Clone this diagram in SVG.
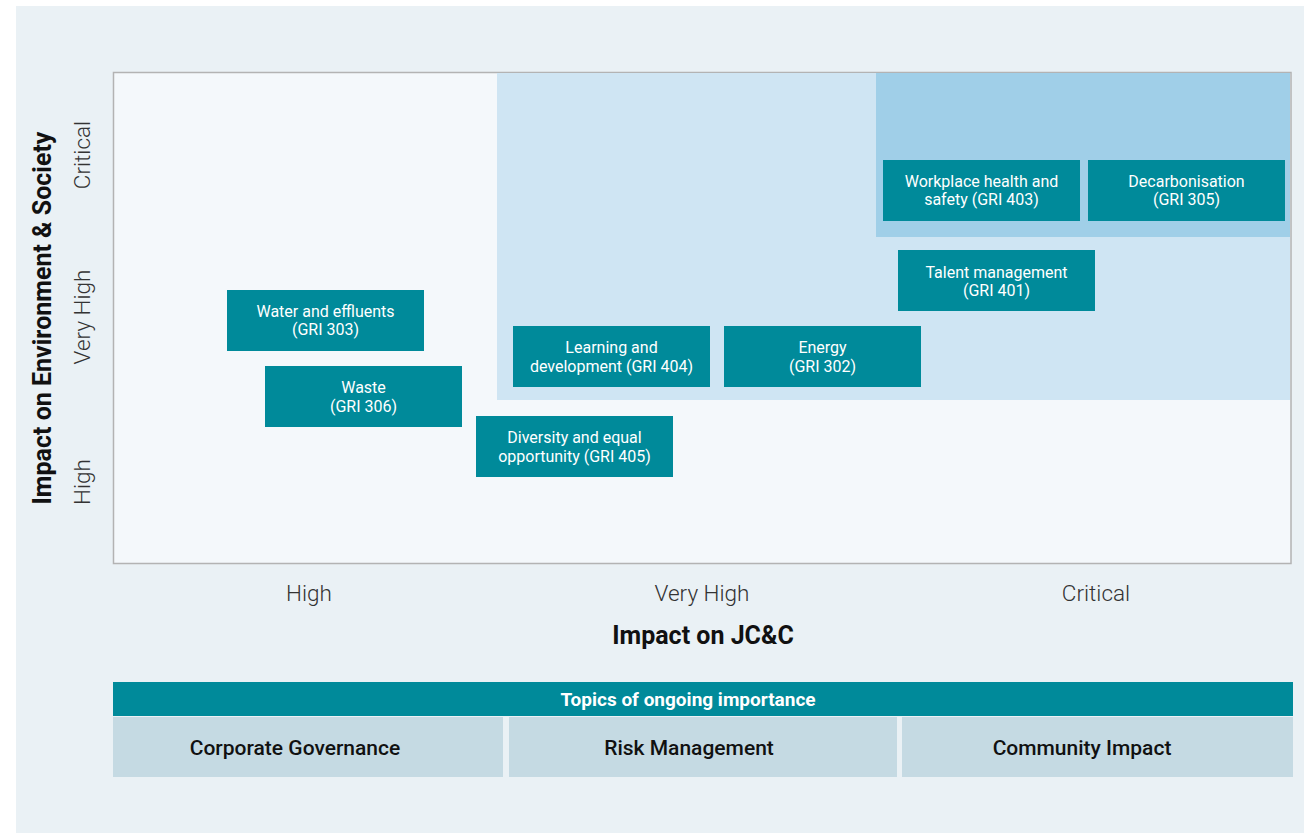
<svg xmlns="http://www.w3.org/2000/svg" width="1304" height="833" viewBox="0 0 1304 833">
  <style>
    .node rect { fill: #008a9a; }
    .node text { fill: #ffffff; font-family: Roboto, "Liberation Sans", sans-serif; font-size: 16px; text-anchor: middle; }
    .axis { fill: #333333; font-family: Roboto, "Liberation Sans", sans-serif; font-size: 22.5px; font-weight: 300; text-anchor: middle; }
    .title { fill: #111111; font-family: Roboto, "Liberation Sans", sans-serif; font-size: 25px; font-weight: bold; text-anchor: middle; }
    .cell { fill: #c5dae3; }
    .cell-text { fill: #111111; font-family: Roboto, "Liberation Sans", sans-serif; font-size: 21px; font-weight: 500; text-anchor: middle; }
  </style>

  <!-- page background -->
  <rect x="0" y="0" width="1304" height="833" fill="#ffffff"/>
  <rect x="16" y="6" width="1288" height="827" fill="#eaf1f5"/>

  <!-- matrix area and shaded zones -->
  <g id="matrix">
    <rect x="113.5" y="72.5" width="1177.5" height="491" fill="#f4f8fb" stroke="#b3b3b3" stroke-width="1.5"/>
    <rect x="497" y="73" width="793" height="327" fill="#cfe5f3"/>
    <rect x="876" y="73" width="414" height="164" fill="#a0cfe8"/>
  </g>

  <!-- topic nodes -->
  <g id="workplace" class="node">
    <rect x="883" y="160" width="197" height="61"/>
    <text x="981.5" y="187">Workplace health and</text>
    <text x="981.5" y="205">safety (GRI 403)</text>
  </g>
  <g id="decarbonisation" class="node">
    <rect x="1088" y="160" width="197" height="61"/>
    <text x="1186.5" y="187">Decarbonisation</text>
    <text x="1186.5" y="205">(GRI 305)</text>
  </g>
  <g id="talent" class="node">
    <rect x="898" y="250" width="197" height="61"/>
    <text x="996.5" y="278">Talent management</text>
    <text x="996.5" y="296">(GRI 401)</text>
  </g>
  <g id="water" class="node">
    <rect x="227" y="290" width="197" height="61"/>
    <text x="325.5" y="317">Water and effluents</text>
    <text x="325.5" y="335">(GRI 303)</text>
  </g>
  <g id="learning" class="node">
    <rect x="513" y="326" width="197" height="61"/>
    <text x="611.5" y="353">Learning and</text>
    <text x="611.5" y="372">development (GRI 404)</text>
  </g>
  <g id="energy" class="node">
    <rect x="724" y="326" width="197" height="61"/>
    <text x="822.5" y="353">Energy</text>
    <text x="822.5" y="372">(GRI 302)</text>
  </g>
  <g id="waste" class="node">
    <rect x="265" y="366" width="197" height="61"/>
    <text x="363.5" y="393">Waste</text>
    <text x="363.5" y="412">(GRI 306)</text>
  </g>
  <g id="diversity" class="node">
    <rect x="476" y="416" width="197" height="61"/>
    <text x="574.5" y="443">Diversity and equal</text>
    <text x="574.5" y="462">opportunity (GRI 405)</text>
  </g>

  <!-- no connectors in this chart -->
  <g id="connectors"></g>

  <!-- axes labels -->
  <g id="x-axis">
    <text class="axis" x="309" y="601">High</text>
    <text class="axis" x="702" y="601">Very High</text>
    <text class="axis" x="1096" y="601">Critical</text>
    <text class="title" x="703" y="644">Impact on JC&amp;C</text>
  </g>
  <g id="y-axis">
    <text class="title" transform="translate(51 318) rotate(-90)">Impact on Environment &amp; Society</text>
    <text class="axis" transform="translate(90 155) rotate(-90)">Critical</text>
    <text class="axis" transform="translate(90 317) rotate(-90)">Very High</text>
    <text class="axis" transform="translate(90 482) rotate(-90)">High</text>
  </g>

  <!-- ongoing topics table -->
  <g id="ongoing-topics">
    <rect x="113" y="682" width="1180" height="34" fill="#008a9a"/>
    <text x="688" y="706" fill="#ffffff" font-family="Roboto, 'Liberation Sans', sans-serif" font-size="19px" font-weight="bold" text-anchor="middle">Topics of ongoing importance</text>
    <rect class="cell" x="113" y="717" width="390" height="60"/>
    <rect class="cell" x="509" y="717" width="388" height="60"/>
    <rect class="cell" x="902" y="717" width="391" height="60"/>
    <text class="cell-text" x="295" y="755">Corporate Governance</text>
    <text class="cell-text" x="689" y="755">Risk Management</text>
    <text class="cell-text" x="1082" y="755">Community Impact</text>
  </g>
</svg>
